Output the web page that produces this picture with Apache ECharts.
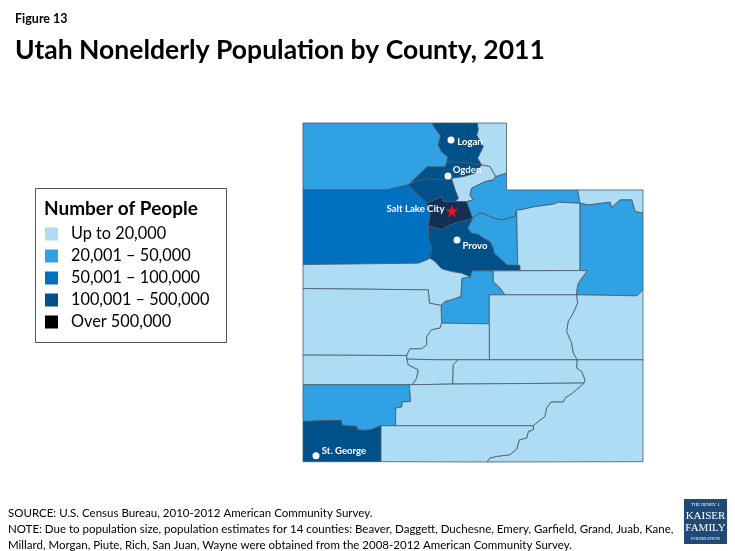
<!DOCTYPE html>
<html>
<head>
<meta charset="UTF-8">
<title>Utah Nonelderly Population by County, 2011</title>
<style>
body { padding:0; border:0; margin:0; background:#fff; }
</style>
<script src="https://cdn.jsdelivr.net/npm/echarts@6/dist/echarts.min.js"></script>
</head>
<body>
<div id="main" style="width:735px;height:551px;"></div>
<script>
// county names and estimated population, only the colour class can be read from the picture
var counties = ['Box Elder','Cache','Rich','Weber','Morgan','Davis','Salt Lake','Summit','Daggett','Tooele',
  'Utah','Wasatch','Duchesne','Uintah','Juab','Sanpete','Carbon','Emery','Grand','Millard',
  'Sevier','Beaver','Piute','Wayne','Iron','Garfield','San Juan','Washington','Kane'];
var population = [44000,105000,2000,205000,9000,285000,940000,33000,900,55000,
  490000,21000,17000,30000,9000,24000,17000,9000,8000,10000,
  17000,5500,1200,2200,41000,4000,13000,115000,5500];

// classes of the legend
var binLabels = ['Up to 20,000','20,001 – 50,000','50,001 – 100,000','100,001 – 500,000','Over 500,000'];
var binMin = [0,20001,50001,100001,500001];
var binMax = [20000,50000,100000,500000,100000000];
var legendColors = ['#AEDCF4','#30A2E3','#0070C0','#00508A','#000000'];
var mapColors = ['#AEDCF4','#30A2E3','#0070C0','#00508A','#142F55'];

// cities
var cityNames = ['Logan','Ogden','Provo','St. George'];
var cityPlaces = [[451,140],[448,176],[457,240],[316,456]];
var capitalName = 'Salt Lake City';
var capitalPlace = [452,211];

// county outlines (x, y in picture pixels)
var riverGrandEmery = [[576.7,295],[577.7,303.3],[573.3,313.3],[568.3,321.7],[566.7,331.7],[571.7,343.3],[573.3,353.3],[577.3,360]];
var riverSanJuan = [[577.3,360],[576.7,368.3],[581.7,371.7],[585,380],[584.3,383.3]];
var riverLower = [[584.3,383.3],[571.7,394],[565,398.3],[563.3,402.3],[551,402.3],[546.7,408.3],[545,416.7],[533.3,426]];
var riverKane = [[533.3,426],[533.3,430],[528.3,431.7],[526.7,438.3],[519.3,440],[516.7,449.3],[510,455],[496.7,456.7],[490,458.3],[486.7,462.3]];
var shapes = {
  'Box Elder': [[303,123],[432,123],[435,128.3],[440.7,135.7],[438.3,145],[441.7,151.7],[447.7,156.7],[447,161.7],[445,167],[427,167],[408.3,185],[386.7,190],[303,190]],
  'Cache': [[432,123],[477.3,123],[478.3,130],[476.7,135],[483.3,146.7],[477.7,158.3],[481.7,165],[470,163],[455,162],[447,161.7],[447.7,156.7],[441.7,151.7],[438.3,145],[440.7,135.7],[435,128.3]],
  'Rich': [[477.3,123],[506.5,123],[506.5,173.3],[495.7,176.7],[490,166.7],[481.7,165],[477.7,158.3],[483.3,146.7],[476.7,135],[478.3,130]],
  'Weber': [[408.3,185],[427,167],[445,167],[447,161.7],[455,162],[470,163],[481.7,165],[475,173.3],[463.3,176.7],[451.7,178.3],[451.7,180],[427,179],[415,181.7]],
  'Morgan': [[451.7,178.3],[463.3,176.7],[475,173.3],[481.7,165],[490,166.7],[495.7,176.7],[493.3,180],[485,181.7],[471.7,188.3],[470,195],[473.3,200],[466.7,201.7],[455,201.7],[458.3,198.3],[455,190]],
  'Davis': [[408.3,185],[415,181.7],[427,179],[451.7,180],[455,190],[458.3,198.3],[455,201.7],[443.3,201.7],[441.7,196.7],[426.7,203.3]],
  'Salt Lake': [[426.7,203.3],[441.7,196.7],[443.3,201.7],[455,201.7],[466.7,201.7],[472.7,218.3],[450,225],[441.7,230],[428.3,226],[430,215]],
  'Summit': [[506.5,173.3],[506.5,190],[577.7,190],[580,203.3],[558.3,202.3],[553.3,204.3],[535,206.7],[520,210],[516.7,210],[515,216.7],[501.7,220],[493,218],[485,214.3],[480,212.7],[472.7,218.3],[466.7,201.7],[473.3,200],[470,195],[471.7,188.3],[485,181.7],[493.3,180],[495.7,176.7]],
  'Daggett': [[577.7,190],[643,190],[643,213.3],[635,211.7],[631.7,200],[620,200],[611.7,207.7],[610,202.3],[588.3,205],[580,203.3]],
  'Tooele': [[303,190],[386.7,190],[408.3,185],[426.7,203.3],[430,215],[428.3,226],[429.3,241.7],[432.3,248.3],[430,258.3],[426.7,260],[418.3,263.3],[303,264.7]],
  'Utah': [[428.3,226],[441.7,230],[450,225],[472.7,218.3],[467.7,228.3],[471.7,233.3],[478.3,234.3],[483,238],[490,241.7],[493.3,248.3],[494,253],[500,258.3],[506.7,265],[520,265.5],[520,270.7],[472,271],[471,274.5],[470.7,277.3],[461.7,273.3],[451.7,271.7],[441.7,269],[435,261.7],[430,258.3],[432.3,248.3],[429.3,241.7]],
  'Wasatch': [[472.7,218.3],[480,212.7],[485,214.3],[493,218],[501.7,220],[515,216.7],[516.7,210],[517.7,265.5],[506.7,265],[500,258.3],[494,253],[493.3,248.3],[490,241.7],[483,238],[478.3,234.3],[471.7,233.3],[467.7,228.3]],
  'Duchesne': [[516.7,210],[520,210],[535,206.7],[553.3,204.3],[558.3,202.3],[580,203.3],[580,270.7],[520,270.7],[520,265.5],[517.7,265.5]],
  'Uintah': [[580,203.3],[588.3,205],[610,202.3],[611.7,207.7],[620,200],[631.7,200],[635,211.7],[643,213.3],[643,290],[637,296],[580,295],[576.7,295],[576.7,291],[578,284],[581.7,278.3],[587.3,271],[580,270.7]],
  'Juab': [[303,264.7],[418.3,263.3],[426.7,260],[430,258.3],[435,261.7],[441.7,269],[451.7,271.7],[461.7,273.3],[470.7,277.3],[462,278.5],[461,296.7],[451.7,300],[445,301.7],[441,305.7],[429.3,303.3],[428.3,290],[303,288.7]],
  'Sanpete': [[472,271],[493.3,271],[493.3,281.7],[500,288],[505,295],[489.3,295],[489.3,324],[441.7,323.3],[441,305.7],[445,301.7],[451.7,300],[461,296.7],[462,278.5],[470.7,277.3],[471,274.5]],
  'Carbon': [[493.3,271],[580,270.7],[587.3,271],[581.7,278.3],[578,284],[576.7,291],[576.7,295],[505,295],[500,288],[493.3,281.7]],
  'Emery': [[489.3,295],[505,295]].concat(riverGrandEmery, [[489.3,360]]),
  'Grand': [[576.7,295],[580,295],[637,296],[643,290],[643,360],[577.3,360]].concat(riverGrandEmery.slice().reverse()),
  'Millard': [[303,288.7],[428.3,290],[429.3,303.3],[441,305.7],[441.7,323.3],[440,328.3],[431.7,330],[426.7,336.7],[426.7,345],[421.7,349],[410,349],[406.7,355.7],[303,355.3]],
  'Sevier': [[441.7,323.3],[489.3,324],[489.3,360],[458,360],[436.7,360],[406.7,359.3],[406.7,355.7],[410,349],[421.7,349],[426.7,345],[426.7,336.7],[431.7,330],[440,328.3]],
  'Beaver': [[303,355.3],[406.7,355.7],[406.7,359.3],[408.3,365],[418.3,370],[416.7,378.3],[412.3,385],[303,385]],
  'Piute': [[406.7,359.3],[436.7,360],[458,360],[453.3,365],[452.7,384.3],[412.3,385],[416.7,378.3],[418.3,370],[408.3,365]],
  'Wayne': [[458,360]].concat(riverSanJuan, [[452.7,384.3],[453.3,365]]),
  'Iron': [[303,385],[409.3,385],[410.7,401.7],[402.3,402.3],[401.7,407.3],[395.7,408.3],[395.7,426],[381,426],[371,430],[363.3,430.7],[357.3,430],[356.7,426.7],[342.3,426],[341,420.7],[333.3,420.7],[303,421.7]],
  'Garfield': [[409.3,385],[452.7,384.3]].concat(riverLower, [[395.7,426],[395.7,408.3],[401.7,407.3],[402.3,402.3],[410.7,401.7]]),
  'San Juan': [[643,360],[643,462]].concat(riverKane.slice().reverse(), riverLower.slice().reverse(), riverSanJuan.slice().reverse()),
  'Washington': [[303,421.7],[333.3,420.7],[341,420.7],[342.3,426],[356.7,426.7],[357.3,430],[363.3,430.7],[371,430],[381,426],[381,462],[303,462]],
  'Kane': [[381,426]].concat(riverKane, [[381,462]])
};

var features = counties.map(function (name) {
  var ring = shapes[name].concat([shapes[name][0]]);
  return { type:'Feature', properties:{ name:name }, geometry:{ type:'Polygon', coordinates:[ring] } };
});
echarts.registerMap('utah', { type:'FeatureCollection', features:features });

var font = 'Lato';
var starPath = 'path://M50,0 L61,35 L98,35 L68,57 L79,92 L50,70 L21,92 L32,57 L2,35 L39,35 Z';

function pieces(colors) {
  return binLabels.map(function (label, i) {
    return { min:binMin[i], max:binMax[i], label:label, color:colors[i] };
  });
}

var cityOffsets = [[19,2],[19,-6],[18,6],[28,-5]];

var myChart = echarts.init(document.getElementById('main'));
myChart.setOption({
  animation:false,
  backgroundColor:'#fff',
  title:[
    { text:'Figure 13', left:15, top:12, padding:0, textStyle:{ fontFamily:font, fontSize:12.5, fontWeight:'bold', color:'#000' } },
    { text:'Utah Nonelderly Population by County, 2011', left:15, top:37, padding:0, textStyle:{ fontFamily:font, fontSize:26.5, fontWeight:'bold', color:'#000' } },
    { text:'Number of People', left:44, top:199, padding:0, textStyle:{ fontFamily:font, fontSize:19, fontWeight:'bold', color:'#000' } },
    { text:'SOURCE: U.S. Census Bureau, 2010-2012 American Community Survey.\nNOTE: Due to population size, population estimates for 14 counties: Beaver, Daggett, Duchesne, Emery, Garfield, Grand, Juab, Kane,\nMillard, Morgan, Piute, Rich, San Juan, Wayne were obtained from the 2008-2012 American Community Survey.',
      left:8, top:505, padding:0, textStyle:{ fontFamily:font, fontSize:11.5, fontWeight:'normal', color:'#000', lineHeight:16 } }
  ],
  geo:{
    map:'utah',
    projection:{ project:function (p) { return p; }, unproject:function (p) { return p; } },
    left:303, top:123, width:340, height:339,
    roam:false, silent:true,
    itemStyle:{ areaColor:'#AEDCF4', borderColor:'#44566A', borderWidth:0.8 },
    emphasis:{ disabled:true },
    label:{ show:false }
  },
  visualMap:[
    { type:'piecewise', seriesIndex:0, show:false, pieces:pieces(mapColors) },
    { type:'piecewise', seriesIndex:3, show:true, pieces:pieces(legendColors), inverse:true,
      left:45, top:226, padding:0, itemWidth:13, itemHeight:13, itemGap:6, textGap:13, align:'left',
      selectedMode:false, hoverLink:false, itemSymbol:'rect',
      textStyle:{ fontFamily:font, fontSize:16.3, color:'#000' } }
  ],
  series:[
    { type:'map', geoIndex:0, silent:true,
      data:counties.map(function (name, i) { return { name:name, value:population[i] }; }) },
    { type:'scatter', coordinateSystem:'geo', symbol:'circle', symbolSize:7, silent:true, z:5,
      itemStyle:{ color:'#fff', opacity:1 },
      data:cityNames.map(function (name, i) {
        return { name:name, value:cityPlaces[i],
          label:{ show:true, position:'inside', formatter:name, offset:cityOffsets[i], color:'#fff',
            fontFamily:font, fontSize:9.6, fontWeight:'bold' } };
      }) },
    { type:'scatter', coordinateSystem:'geo', symbol:starPath, symbolSize:13, silent:true, z:6,
      itemStyle:{ color:'#F01020', opacity:1 },
      data:[{ name:capitalName, value:capitalPlace,
        label:{ show:true, position:'left', distance:1, offset:[0,-2], formatter:capitalName, color:'#fff',
          fontFamily:font, fontSize:9.6, fontWeight:'bold' } }] },
    // empty series, the visible legend has to point somewhere (its black is not the county's navy)
    { type:'scatter', data:[], coordinateSystem:'geo' }
  ],
  graphic:[
    { type:'rect', z:-1, shape:{ x:35.5, y:188.5, width:191, height:154 }, style:{ fill:'#fff', stroke:'#555', lineWidth:1 } },
    { type:'group', left:684, top:499, children:[
      { type:'rect', shape:{ x:0, y:0, width:43, height:45 }, style:{ fill:'#1F4A78' } },
      { type:'text', style:{ x:21.5, y:6, text:'THE HENRY J.', align:'center', verticalAlign:'middle', fill:'#fff', font:'4.5px "Liberation Serif"' } },
      { type:'text', style:{ x:21.5, y:17, text:'KAISER', align:'center', verticalAlign:'middle', fill:'#fff', font:'11px "Liberation Serif"' } },
      { type:'text', style:{ x:21.5, y:29, text:'FAMILY', align:'center', verticalAlign:'middle', fill:'#fff', font:'11px "Liberation Serif"' } },
      { type:'text', style:{ x:21.5, y:40, text:'FOUNDATION', align:'center', verticalAlign:'middle', fill:'#fff', font:'4.5px "Liberation Serif"' } }
    ] }
  ]
});
</script>
</body>
</html>
